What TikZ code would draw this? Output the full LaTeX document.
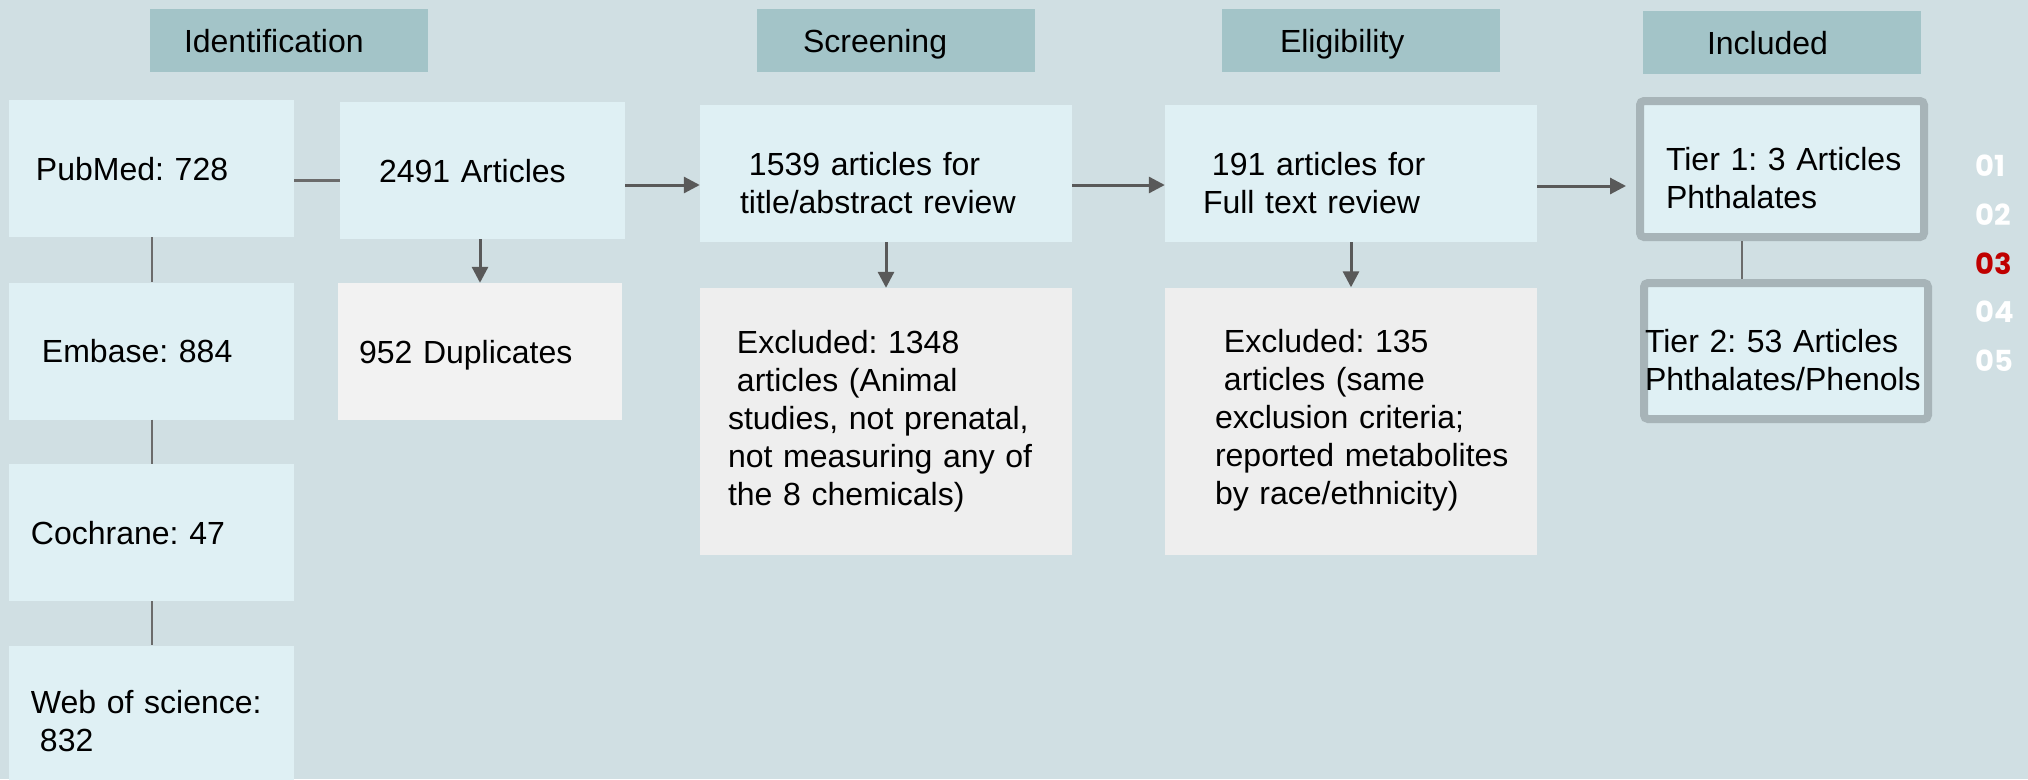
\documentclass[tikz,border=0pt]{standalone}
\usepackage{fontspec}
\setmainfont{Liberation Sans}
\newfontfamily\numfont{Poppins}
\usetikzlibrary{arrows.meta}

\definecolor{bg}{HTML}{D0DFE3}
\definecolor{headfill}{HTML}{A3C4C8}
\definecolor{boxblue}{HTML}{DFF0F4}
\definecolor{boxgray}{HTML}{EEEEEE}
\definecolor{dupgray}{HTML}{F2F2F2}
\definecolor{tierline}{HTML}{A7B4B8}
\definecolor{arrowgray}{HTML}{595959}
\definecolor{linegray}{HTML}{6B6B6B}
\definecolor{numred}{HTML}{C00000}

\newcommand\lsp{\hspace*{0.28em}}
\frenchspacing

\tikzset{
  base/.style={inner sep=0pt, align=left, font=\fontsize{32}{38}\selectfont},
  lpad/.style={execute at begin node={\frenchspacing\leftskip=#1\relax\rightskip=0pt plus 1fil\relax}},
  stage/.style={base, fill=headfill, text width=278pt, minimum height=63pt,
    text height=23pt, text depth=0pt},
  src/.style={base, fill=boxblue, text width=285pt, minimum height=137pt,
    text height=23pt, text depth=0pt},
  revbox/.style={base, fill=boxblue, text width=372pt, minimum height=137pt,
    text height=41pt, text depth=38pt},
  drop/.style={base, fill=boxgray, text width=372pt, minimum height=267pt,
    text height=23pt, text depth=160pt},
  tier/.style={base, fill=boxblue, draw=tierline, line width=8pt, rounded corners=4pt,
    text width=284pt, minimum height=136pt, text height=41pt, text depth=38pt},
  arrow/.style={draw=arrowgray, line width=3pt, -{Triangle[length=16pt,width=16pt]}},
  link/.style={draw=linegray, line width=2pt},
  num/.style={font=\numfont\bfseries\fontsize{29}{29}\selectfont, text=white,
    anchor=west, inner sep=0pt}
}

\begin{document}
\begin{tikzpicture}[x=1pt, y=-1pt]
  \useasboundingbox (0,0) rectangle (2028,779);
  \clip (0,0) rectangle (2028,779);
  \fill[bg] (0,0) rectangle (2028,779);

  % stage headers
  \node[stage, lpad=34pt] (ident) at (289,40.5) {Identification};
  \node[stage, lpad=46pt] (scrh) at (896,40.5) {Screening};
  \node[stage, lpad=58pt] (elih) at (1361,40.5) {Eligibility};
  \node[stage, lpad=64pt] (inch) at (1782,42.5) {Included};

  % databases
  \node[src, lpad=27pt] (pub) at (151.5,168.5) {PubMed: 728};
  \node[src, lpad=33pt] (emb) at (151.5,351) {Embase: 884};
  \node[src, lpad=22pt] (coc) at (151.5,532.5) {Cochrane: 47};
  \node[src, lpad=22pt, text height=37pt, text depth=38pt] (web) at (151.5,714)
    {Web of science:\\\lsp832};

  \node[src, lpad=39pt] (all) at (482.5,170.5) {2491 Articles};
  \node[src, fill=dupgray, text width=284pt, lpad=21pt] (dup) at (480,351.5) {952 Duplicates};

  % screening and eligibility
  \node[revbox, lpad=40pt] (scr) at (886,173.5) {\lsp1539 articles for\\title/abstract review};
  \node[drop, lpad=28pt] (exc1) at (886,421.5)
    {\lsp Excluded: 1348\\\lsp articles (Animal\\studies, not prenatal,\\not measuring any of\\the 8 chemicals)};
  \node[revbox, lpad=38pt] (full) at (1351,173.5) {\lsp191 articles for\\Full text review};
  \node[drop, lpad=50pt] (exc2) at (1351,421)
    {\lsp Excluded: 135\\\lsp articles (same\\exclusion criteria;\\reported metabolites\\by race/ethnicity)};

  % included
  \node[tier, lpad=26pt] (t1) at (1782,169) {Tier 1: 3 Articles\\Phthalates};
  \node[tier, lpad=1pt] (t2) at (1786,351) {Tier 2: 53 Articles\\Phthalates/Phenols};

  % connectors
  \draw[link] (pub) -- (emb);
  \draw[link] (emb) -- (coc);
  \draw[link] (coc) -- (web);
  \draw[link, line width=3pt] ([yshift=-11.5pt]pub.east) -- ([yshift=-11.5pt]pub.east -| all.west);
  \draw[arrow] ([yshift=-14.5pt]all.east) -- ([yshift=-14.5pt]all.east -| scr.west);
  \draw[arrow] (dup.north |- all.south) -- (dup.north);
  \draw[arrow] ([yshift=-11.5pt]scr.east) -- ([yshift=-11.5pt]scr.east -| full.west);
  \draw[arrow] (scr) -- (exc1);
  \draw[arrow] (full) -- (exc2);
  \draw[arrow, shorten >=10pt] ([yshift=-12.5pt]full.east) -- ([yshift=-12.5pt]full.east -| t1.west);
  \draw[link] ([xshift=-40pt]t1.south) -- ([xshift=-40pt]t1.south |- t2.north);

  % section numbers
  \foreach \n/\y in {01/166,02/215,04/312,05/361}
    \node[num] (n\n) at (1975,\y) {\n};
  \node[num, text=numred] (n03) at (1975,264) {03};
\end{tikzpicture}
\end{document}
